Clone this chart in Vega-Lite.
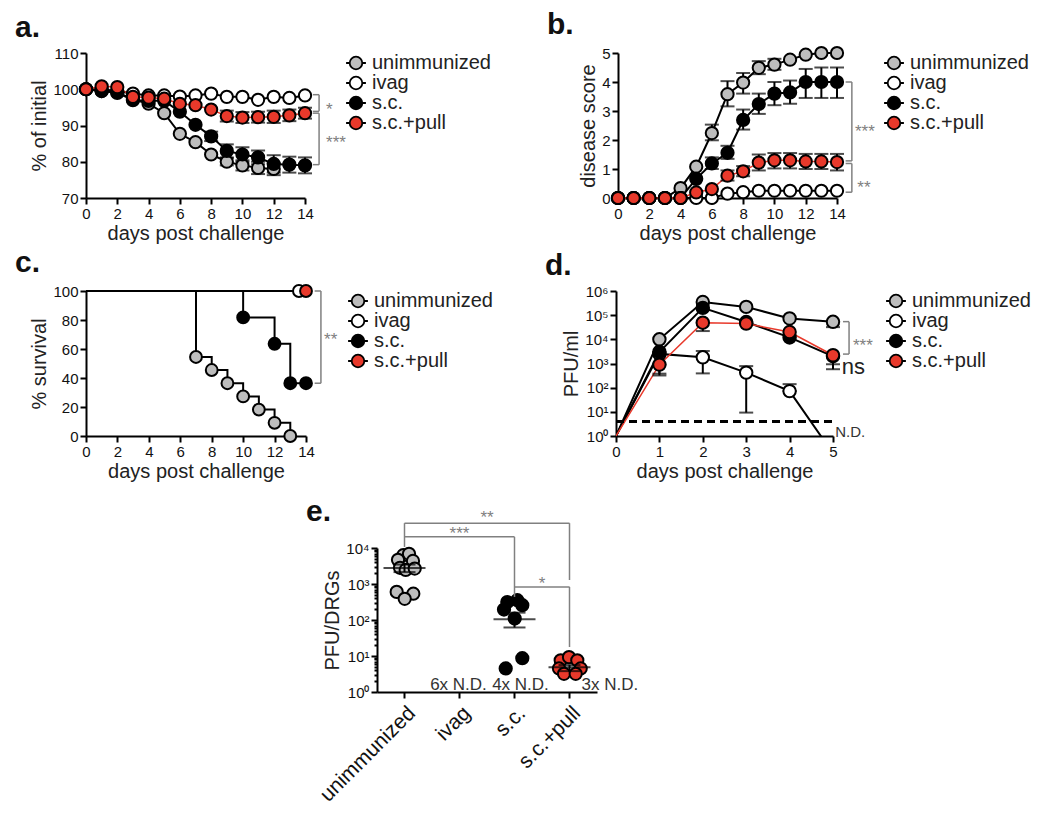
{
"$schema": "https://vega.github.io/schema/vega-lite/v6.json",
"background": "white",
"padding": {"left": 15, "top": 9, "right": 5, "bottom": 5},
"config": {
 "font": "Liberation Sans",
 "view": {"stroke": null},
 "axis": {"domainColor": "#000", "domainWidth": 2, "tickColor": "#000", "tickWidth": 2, "tickSize": 6, "labelFontSize": 15, "labelColor": "#111", "titleFontSize": 20, "titleFontWeight": "normal", "titleColor": "#222", "grid": false, "labelPadding": 2, "titlePadding": 3, "labelFlush": false, "labelOverlap": false},
 "axisX": {"titlePadding": 2},
 "legend": {"symbolType": "M-1.1,0L-0.7,0M0.7,0L1.1,0M0.7,0A0.7,0.7,0,1,1,-0.7,0A0.7,0.7,0,1,1,0.7,0Z", "symbolSize": 324, "symbolStrokeColor": "black", "symbolStrokeWidth": 1.8, "labelFontSize": 20, "labelColor": "#222", "rowPadding": 0, "labelOffset": 6, "padding": 0, "orient": "right"},
 "title": {"anchor": "start", "frame": "group", "dx": -71, "dy": 5, "fontSize": 30, "fontWeight": "bold", "color": "#111", "offset": 8}
},
"spacing": 16,
"resolve": {"scale": {"fill": "independent"}},
"vconcat": [
{
 "spacing": 5,
 "resolve": {"scale": {"fill": "independent"}},
 "vconcat": [
 {
  "hconcat": [
  {
   "title": "a.",
   "width": 219, "height": 145,
   "data": {"values": [
    {"d":0,"g":"unimmunized","v":100},{"d":1,"g":"unimmunized","v":99.5},{"d":2,"g":"unimmunized","v":99.2},{"d":3,"g":"unimmunized","v":97.2},{"d":4,"g":"unimmunized","v":96},{"d":5,"g":"unimmunized","v":93.4},{"d":6,"g":"unimmunized","v":87.7},{"d":7,"g":"unimmunized","v":85.4},{"d":8,"g":"unimmunized","v":82},{"d":9,"g":"unimmunized","v":80,"lo":79,"hi":81},{"d":10,"g":"unimmunized","v":79,"lo":77.6,"hi":80.4},{"d":11,"g":"unimmunized","v":78.3,"lo":76.6,"hi":80},{"d":12,"g":"unimmunized","v":78,"lo":76.3,"hi":79.7},
    {"d":0,"g":"ivag","v":100},{"d":1,"g":"ivag","v":100},{"d":2,"g":"ivag","v":99.5},{"d":3,"g":"ivag","v":98.8},{"d":4,"g":"ivag","v":98.3},{"d":5,"g":"ivag","v":98.3},{"d":6,"g":"ivag","v":98},{"d":7,"g":"ivag","v":98.3},{"d":8,"g":"ivag","v":98.8},{"d":9,"g":"ivag","v":97.9},{"d":10,"g":"ivag","v":97.9},{"d":11,"g":"ivag","v":97.1},{"d":12,"g":"ivag","v":97.9},{"d":13,"g":"ivag","v":97.6},{"d":14,"g":"ivag","v":98.3},
    {"d":0,"g":"s.c.","v":100},{"d":1,"g":"s.c.","v":99.5},{"d":2,"g":"s.c.","v":99},{"d":3,"g":"s.c.","v":97},{"d":4,"g":"s.c.","v":96.8},{"d":5,"g":"s.c.","v":96.8},{"d":6,"g":"s.c.","v":93.8},{"d":7,"g":"s.c.","v":90.2},{"d":8,"g":"s.c.","v":87,"lo":85.7,"hi":88.3},{"d":9,"g":"s.c.","v":83,"lo":81.2,"hi":84.8},{"d":10,"g":"s.c.","v":82,"lo":80,"hi":84},{"d":11,"g":"s.c.","v":81.2,"lo":79.3,"hi":83.1},{"d":12,"g":"s.c.","v":79.4,"lo":77,"hi":81.8},{"d":13,"g":"s.c.","v":79.2,"lo":77,"hi":81.4},{"d":14,"g":"s.c.","v":79,"lo":76.8,"hi":81.2},
    {"d":0,"g":"s.c.+pull","v":100},{"d":1,"g":"s.c.+pull","v":100.8},{"d":2,"g":"s.c.+pull","v":100.6},{"d":3,"g":"s.c.+pull","v":97.9},{"d":4,"g":"s.c.+pull","v":97.7},{"d":5,"g":"s.c.+pull","v":97.4},{"d":6,"g":"s.c.+pull","v":96},{"d":7,"g":"s.c.+pull","v":95.6},{"d":8,"g":"s.c.+pull","v":94.4},{"d":9,"g":"s.c.+pull","v":92.6,"lo":91.1,"hi":94.1},{"d":10,"g":"s.c.+pull","v":92.2,"lo":90.7,"hi":93.7},{"d":11,"g":"s.c.+pull","v":92.3,"lo":90.8,"hi":93.8},{"d":12,"g":"s.c.+pull","v":92.4,"lo":90.7,"hi":94.1},{"d":13,"g":"s.c.+pull","v":92.8,"lo":91.2,"hi":94.4},{"d":14,"g":"s.c.+pull","v":93.4,"lo":91.9,"hi":94.9}
   ]},
   "layer": [
    {"transform": [{"filter": "datum.g != 's.c.+pull'"}], "mark": {"type": "line", "strokeWidth": 2, "color": "black"},
     "encoding": {
      "x": {"field": "d", "type": "quantitative", "title": "days post challenge", "scale": {"domain": [0, 14], "nice": false}, "axis": {"values": [0,2,4,6,8,10,12,14], "tickCount": 30, "format": "d", "labelOverlap": false}},
      "y": {"field": "v", "type": "quantitative", "title": "% of initial", "scale": {"domain": [70, 110], "nice": false, "zero": false}, "axis": {"values": [70,80,90,100,110], "tickCount": 30, "format": "d", "labelOverlap": false}},
      "detail": {"field": "g"}}},
    {"transform": [{"filter": "datum.g == 's.c.+pull'"}], "mark": {"type": "line", "strokeWidth": 1.5, "color": "#e8392b"},
     "encoding": {"x": {"field": "d", "type": "quantitative", "title": "days post challenge"}, "y": {"field": "v", "type": "quantitative", "title": "% of initial"}}},
    {"transform": [{"filter": "isValid(datum.lo)"}], "mark": {"type": "rule", "strokeWidth": 2, "color": "black"},
     "encoding": {"x": {"field": "d", "type": "quantitative", "title": "days post challenge"}, "y": {"field": "lo", "type": "quantitative", "title": "% of initial"}, "y2": {"field": "hi"}}},
    {"transform": [{"filter": "isValid(datum.lo)"}], "mark": {"type": "tick", "orient": "horizontal", "size": 14, "thickness": 2, "color": "black"},
     "encoding": {"x": {"field": "d", "type": "quantitative", "title": "days post challenge"}, "y": {"field": "lo", "type": "quantitative", "title": "% of initial"}}},
    {"transform": [{"filter": "isValid(datum.hi)"}], "mark": {"type": "tick", "orient": "horizontal", "size": 14, "thickness": 2, "color": "black"},
     "encoding": {"x": {"field": "d", "type": "quantitative", "title": "days post challenge"}, "y": {"field": "hi", "type": "quantitative", "title": "% of initial"}}},
    {"mark": {"type": "point", "filled": true, "size": 150, "stroke": "black", "strokeWidth": 2, "opacity": 1},
     "encoding": {"x": {"field": "d", "type": "quantitative", "title": "days post challenge"}, "y": {"field": "v", "type": "quantitative", "title": "% of initial"},
      "fill": {"field": "g", "type": "nominal", "scale": {"domain": ["unimmunized","ivag","s.c.","s.c.+pull"], "range": ["#bdbdbd","#ffffff","#000000","#e8392b"]}, "legend": {"title": null, "offset": 37}}}},
    {"data": {"values": [
      {"x1":14.9,"x2":14.9,"y1":98.5,"y2":93.9},{"x1":14.5,"x2":14.9,"y1":98.5,"y2":98.5},{"x1":14.5,"x2":14.9,"y1":93.9,"y2":93.9},
      {"x1":14.9,"x2":14.9,"y1":93.4,"y2":79.2},{"x1":14.5,"x2":14.9,"y1":93.4,"y2":93.4},{"x1":14.5,"x2":14.9,"y1":79.2,"y2":79.2}]},
     "mark": {"type": "rule", "color": "#808080", "strokeWidth": 1.5},
     "encoding": {"x": {"field": "x1", "type": "quantitative", "title": "days post challenge"}, "x2": {"field": "x2"}, "y": {"field": "y1", "type": "quantitative", "title": "% of initial"}, "y2": {"field": "y2"}}},
    {"data": {"values": [{"x":15.35,"y":92.9,"t":"*"},{"x":15.35,"y":83.8,"t":"***"}]},
     "mark": {"type": "text", "align": "left", "baseline": "alphabetic", "fontSize": 17, "color": "#808080"},
     "encoding": {"x": {"field": "x", "type": "quantitative", "title": "days post challenge"}, "y": {"field": "y", "type": "quantitative", "title": "% of initial"}, "text": {"field": "t"}}}
   ]
  },
  {
   "title": "b.",
   "width": 219, "height": 145,
   "data": {"values": [
    {"d":0,"g":"unimmunized","v":0},{"d":1,"g":"unimmunized","v":0},{"d":2,"g":"unimmunized","v":0},{"d":3,"g":"unimmunized","v":0},{"d":4,"g":"unimmunized","v":0.34},{"d":5,"g":"unimmunized","v":1.08},{"d":6,"g":"unimmunized","v":2.24,"lo":1.99,"hi":2.53},{"d":7,"g":"unimmunized","v":3.58,"lo":3.16,"hi":4.03},{"d":8,"g":"unimmunized","v":3.98,"lo":3.6,"hi":4.31},{"d":9,"g":"unimmunized","v":4.49,"lo":4.27,"hi":4.72},{"d":10,"g":"unimmunized","v":4.6,"lo":4.42,"hi":4.8},{"d":11,"g":"unimmunized","v":4.77},{"d":12,"g":"unimmunized","v":4.94},{"d":13,"g":"unimmunized","v":5},{"d":14,"g":"unimmunized","v":5},
    {"d":0,"g":"ivag","v":0},{"d":1,"g":"ivag","v":0},{"d":2,"g":"ivag","v":0},{"d":3,"g":"ivag","v":0},{"d":4,"g":"ivag","v":0},{"d":5,"g":"ivag","v":0},{"d":6,"g":"ivag","v":0},{"d":7,"g":"ivag","v":0.15},{"d":8,"g":"ivag","v":0.2},{"d":9,"g":"ivag","v":0.25},{"d":10,"g":"ivag","v":0.25},{"d":11,"g":"ivag","v":0.25},{"d":12,"g":"ivag","v":0.25},{"d":13,"g":"ivag","v":0.25},{"d":14,"g":"ivag","v":0.25},
    {"d":0,"g":"s.c.","v":0},{"d":1,"g":"s.c.","v":0},{"d":2,"g":"s.c.","v":0},{"d":3,"g":"s.c.","v":0},{"d":4,"g":"s.c.","v":0},{"d":5,"g":"s.c.","v":0.66},{"d":6,"g":"s.c.","v":1.19,"lo":1.0,"hi":1.4},{"d":7,"g":"s.c.","v":1.56,"lo":1.35,"hi":1.8},{"d":8,"g":"s.c.","v":2.69,"lo":2.36,"hi":3.05},{"d":9,"g":"s.c.","v":3.24,"lo":2.9,"hi":3.6},{"d":10,"g":"s.c.","v":3.6,"lo":3.2,"hi":4.0},{"d":11,"g":"s.c.","v":3.64,"lo":3.25,"hi":4.05},{"d":12,"g":"s.c.","v":4,"lo":3.45,"hi":4.45},{"d":13,"g":"s.c.","v":4,"lo":3.45,"hi":4.5},{"d":14,"g":"s.c.","v":4,"lo":3.45,"hi":4.5},
    {"d":0,"g":"s.c.+pull","v":0},{"d":1,"g":"s.c.+pull","v":0},{"d":2,"g":"s.c.+pull","v":0},{"d":3,"g":"s.c.+pull","v":0},{"d":4,"g":"s.c.+pull","v":0},{"d":5,"g":"s.c.+pull","v":0.19},{"d":6,"g":"s.c.+pull","v":0.31},{"d":7,"g":"s.c.+pull","v":0.77,"lo":0.6,"hi":0.95},{"d":8,"g":"s.c.+pull","v":0.92,"lo":0.75,"hi":1.1},{"d":9,"g":"s.c.+pull","v":1.22,"lo":0.95,"hi":1.5},{"d":10,"g":"s.c.+pull","v":1.3,"lo":1.02,"hi":1.55},{"d":11,"g":"s.c.+pull","v":1.3,"lo":1.02,"hi":1.55},{"d":12,"g":"s.c.+pull","v":1.26,"lo":1.0,"hi":1.52},{"d":13,"g":"s.c.+pull","v":1.26,"lo":1.0,"hi":1.52},{"d":14,"g":"s.c.+pull","v":1.24,"lo":0.95,"hi":1.52}
   ]},
   "layer": [
    {"transform": [{"filter": "datum.g != 's.c.+pull'"}], "mark": {"type": "line", "strokeWidth": 2, "color": "black"},
     "encoding": {
      "x": {"field": "d", "type": "quantitative", "title": "days post challenge", "scale": {"domain": [0, 14], "nice": false}, "axis": {"values": [0,2,4,6,8,10,12,14], "tickCount": 30, "format": "d", "labelOverlap": false}},
      "y": {"field": "v", "type": "quantitative", "title": "disease score", "scale": {"domain": [0, 5], "nice": false}, "axis": {"values": [0,1,2,3,4,5], "tickCount": 30, "format": "d", "labelOverlap": false}},
      "detail": {"field": "g"}}},
    {"transform": [{"filter": "datum.g == 's.c.+pull'"}], "mark": {"type": "line", "strokeWidth": 1.5, "color": "#e8392b"},
     "encoding": {"x": {"field": "d", "type": "quantitative", "title": "days post challenge"}, "y": {"field": "v", "type": "quantitative", "title": "disease score"}}},
    {"transform": [{"filter": "isValid(datum.lo)"}], "mark": {"type": "rule", "strokeWidth": 2, "color": "black"},
     "encoding": {"x": {"field": "d", "type": "quantitative", "title": "days post challenge"}, "y": {"field": "lo", "type": "quantitative", "title": "disease score"}, "y2": {"field": "hi"}}},
    {"transform": [{"filter": "isValid(datum.lo)"}], "mark": {"type": "tick", "orient": "horizontal", "size": 14, "thickness": 2, "color": "black"},
     "encoding": {"x": {"field": "d", "type": "quantitative", "title": "days post challenge"}, "y": {"field": "lo", "type": "quantitative", "title": "disease score"}}},
    {"transform": [{"filter": "isValid(datum.hi)"}], "mark": {"type": "tick", "orient": "horizontal", "size": 14, "thickness": 2, "color": "black"},
     "encoding": {"x": {"field": "d", "type": "quantitative", "title": "days post challenge"}, "y": {"field": "hi", "type": "quantitative", "title": "disease score"}}},
    {"mark": {"type": "point", "filled": true, "size": 150, "stroke": "black", "strokeWidth": 2, "opacity": 1},
     "encoding": {"x": {"field": "d", "type": "quantitative", "title": "days post challenge"}, "y": {"field": "v", "type": "quantitative", "title": "disease score"},
      "fill": {"field": "g", "type": "nominal", "scale": {"domain": ["unimmunized","ivag","s.c.","s.c.+pull"], "range": ["#bdbdbd","#ffffff","#000000","#e8392b"]}, "legend": {"title": null, "offset": 43}}}},
    {"data": {"values": [
      {"x1":14.95,"x2":14.95,"y1":4.0,"y2":1.28},{"x1":14.55,"x2":14.95,"y1":4.0,"y2":4.0},{"x1":14.55,"x2":14.95,"y1":1.28,"y2":1.28},
      {"x1":14.95,"x2":14.95,"y1":1.19,"y2":0.2},{"x1":14.55,"x2":14.95,"y1":1.19,"y2":1.19},{"x1":14.55,"x2":14.95,"y1":0.2,"y2":0.2}]},
     "mark": {"type": "rule", "color": "#808080", "strokeWidth": 1.5},
     "encoding": {"x": {"field": "x1", "type": "quantitative", "title": "days post challenge"}, "x2": {"field": "x2"}, "y": {"field": "y1", "type": "quantitative", "title": "disease score"}, "y2": {"field": "y2"}}},
    {"data": {"values": [{"x":15.15,"y":2.12,"t":"***"},{"x":15.3,"y":0.17,"t":"**"}]},
     "mark": {"type": "text", "align": "left", "baseline": "alphabetic", "fontSize": 17, "color": "#808080"},
     "encoding": {"x": {"field": "x", "type": "quantitative", "title": "days post challenge"}, "y": {"field": "y", "type": "quantitative", "title": "disease score"}, "text": {"field": "t"}}}
   ]
  }
  ],
  "spacing": 313, "bounds": "flush",
  "resolve": {"scale": {"fill": "independent"}}
 },
 {
  "hconcat": [
  {
   "title": "c.",
   "width": 220, "height": 145,
   "data": {"values": [
    {"d":0,"g":"unimmunized","s":100},{"d":7,"g":"unimmunized","s":54.5},{"d":8,"g":"unimmunized","s":45.5},{"d":9,"g":"unimmunized","s":36.4},{"d":10,"g":"unimmunized","s":27.3},{"d":11,"g":"unimmunized","s":18.2},{"d":12,"g":"unimmunized","s":9.1},{"d":13,"g":"unimmunized","s":0},
    {"d":0,"g":"ivag","s":100},{"d":14,"g":"ivag","s":100},
    {"d":0,"g":"s.c.","s":100},{"d":10,"g":"s.c.","s":81.8},{"d":12,"g":"s.c.","s":63.6},{"d":13,"g":"s.c.","s":36.4},{"d":14,"g":"s.c.","s":36.4}
   ]},
   "layer": [
    {"mark": {"type": "line", "strokeWidth": 2, "color": "black", "interpolate": "step-after"},
     "encoding": {
      "x": {"field": "d", "type": "quantitative", "title": "days post challenge", "scale": {"domain": [0, 14], "nice": false}, "axis": {"values": [0,2,4,6,8,10,12,14], "tickCount": 30, "format": "d", "labelOverlap": false}},
      "y": {"field": "s", "type": "quantitative", "title": "% survival", "scale": {"domain": [0, 100], "nice": false}, "axis": {"values": [0,20,40,60,80,100], "tickCount": 30, "format": "d", "labelOverlap": false}},
      "detail": {"field": "g"}}},
    {"data": {"values": [
      {"d":7,"g":"unimmunized","s":54.5},{"d":8,"g":"unimmunized","s":45.5},{"d":9,"g":"unimmunized","s":36.4},{"d":10,"g":"unimmunized","s":27.3},{"d":11,"g":"unimmunized","s":18.2},{"d":12,"g":"unimmunized","s":9.1},{"d":13,"g":"unimmunized","s":0},
      {"d":13.55,"g":"ivag","s":100},
      {"d":10,"g":"s.c.","s":81.8},{"d":12,"g":"s.c.","s":63.6},{"d":13,"g":"s.c.","s":36.4},{"d":14,"g":"s.c.","s":36.4},
      {"d":14,"g":"s.c.+pull","s":100}]},
     "mark": {"type": "point", "filled": true, "size": 140, "stroke": "black", "strokeWidth": 2, "opacity": 1},
     "encoding": {"x": {"field": "d", "type": "quantitative", "title": "days post challenge"}, "y": {"field": "s", "type": "quantitative", "title": "% survival"},
      "fill": {"field": "g", "type": "nominal", "scale": {"domain": ["unimmunized","ivag","s.c.","s.c.+pull"], "range": ["#bdbdbd","#ffffff","#000000","#e8392b"]}, "legend": {"title": null, "offset": 38}}}},
    {"data": {"values": [
      {"x1":14.95,"x2":14.95,"y1":100,"y2":36.4},{"x1":14.55,"x2":14.95,"y1":100,"y2":100},{"x1":14.55,"x2":14.95,"y1":36.4,"y2":36.4}]},
     "mark": {"type": "rule", "color": "#808080", "strokeWidth": 1.5},
     "encoding": {"x": {"field": "x1", "type": "quantitative", "title": "days post challenge"}, "x2": {"field": "x2"}, "y": {"field": "y1", "type": "quantitative", "title": "% survival"}, "y2": {"field": "y2"}}},
    {"data": {"values": [{"x":15.15,"y":62.8,"t":"**"}]},
     "mark": {"type": "text", "align": "left", "baseline": "alphabetic", "fontSize": 17, "color": "#808080"},
     "encoding": {"x": {"field": "x", "type": "quantitative", "title": "days post challenge"}, "y": {"field": "y", "type": "quantitative", "title": "% survival"}, "text": {"field": "t"}}}
   ]
  },
  {
   "title": "d.",
   "width": 217, "height": 145,
   "data": {"values": [
    {"d":0,"g":"unimmunized","v":1},{"d":1,"g":"unimmunized","v":10000},{"d":2,"g":"unimmunized","v":350000},{"d":3,"g":"unimmunized","v":220000},{"d":4,"g":"unimmunized","v":73000},{"d":5,"g":"unimmunized","v":53000,"lo":32000,"hi":53000},
    {"d":0,"g":"ivag","v":1},{"d":1,"g":"ivag","v":2500},{"d":2,"g":"ivag","v":1800,"lo":390,"hi":3300},{"d":3,"g":"ivag","v":420,"lo":9.3,"hi":780},{"d":4,"g":"ivag","v":72,"lo":72,"hi":140},{"d":5,"g":"ivag","v":0.19},
    {"d":0,"g":"s.c.","v":1},{"d":1,"g":"s.c.","v":3000,"lo":320,"hi":3000},{"d":2,"g":"s.c.","v":200000},{"d":3,"g":"s.c.","v":52000},{"d":4,"g":"s.c.","v":12000},{"d":5,"g":"s.c.","v":2000,"lo":930,"hi":2000},
    {"d":0,"g":"s.c.+pull","v":1},{"d":1,"g":"s.c.+pull","v":900,"lo":380,"hi":900},{"d":2,"g":"s.c.+pull","v":49000,"lo":22000,"hi":49000},{"d":3,"g":"s.c.+pull","v":45000},{"d":4,"g":"s.c.+pull","v":20000},{"d":5,"g":"s.c.+pull","v":2200,"lo":580,"hi":2200}
   ]},
   "layer": [
    {"transform": [{"filter": "datum.g != 's.c.+pull'"}], "mark": {"type": "line", "strokeWidth": 2, "color": "black", "clip": true},
     "encoding": {
      "x": {"field": "d", "type": "quantitative", "title": "days post challenge", "scale": {"domain": [0, 5], "nice": false}, "axis": {"values": [0,1,2,3,4,5], "tickCount": 30, "format": "d", "labelOverlap": false}},
      "y": {"field": "v", "type": "quantitative", "title": "PFU/ml", "scale": {"type": "log", "domain": [1, 1000000]}, "axis": {"values": [1,10,100,1000,10000,100000,1000000], "tickCount": 30, "labelOverlap": false, "labelExpr": "'10' + ['⁰','¹','²','³','⁴','⁵','⁶'][round(log(datum.value)/LN10)]"}},
      "detail": {"field": "g"}}},
    {"transform": [{"filter": "datum.g == 's.c.+pull'"}], "mark": {"type": "line", "strokeWidth": 1.5, "color": "#e8392b", "clip": true},
     "encoding": {"x": {"field": "d", "type": "quantitative", "title": "days post challenge"}, "y": {"field": "v", "type": "quantitative", "title": "PFU/ml"}}},
    {"data": {"values": [{"x1":0,"x2":5,"y":4}]},
     "mark": {"type": "rule", "strokeWidth": 3, "strokeDash": [8, 5], "color": "black"},
     "encoding": {"x": {"field": "x1", "type": "quantitative", "title": "days post challenge"}, "x2": {"field": "x2"}, "y": {"field": "y", "type": "quantitative", "title": "PFU/ml"}}},
    {"transform": [{"filter": "isValid(datum.lo)"}], "mark": {"type": "rule", "strokeWidth": 2, "color": "black"},
     "encoding": {"x": {"field": "d", "type": "quantitative", "title": "days post challenge"}, "y": {"field": "lo", "type": "quantitative", "title": "PFU/ml"}, "y2": {"field": "hi"}}},
    {"transform": [{"filter": "isValid(datum.lo)"}], "mark": {"type": "tick", "orient": "horizontal", "size": 14, "thickness": 2, "color": "black"},
     "encoding": {"x": {"field": "d", "type": "quantitative", "title": "days post challenge"}, "y": {"field": "lo", "type": "quantitative", "title": "PFU/ml"}}},
    {"transform": [{"filter": "isValid(datum.hi)"}], "mark": {"type": "tick", "orient": "horizontal", "size": 14, "thickness": 2, "color": "black"},
     "encoding": {"x": {"field": "d", "type": "quantitative", "title": "days post challenge"}, "y": {"field": "hi", "type": "quantitative", "title": "PFU/ml"}}},
    {"transform": [{"filter": "datum.d > 0 && datum.v >= 1"}],
     "mark": {"type": "point", "filled": true, "size": 155, "stroke": "black", "strokeWidth": 2, "opacity": 1},
     "encoding": {"x": {"field": "d", "type": "quantitative", "title": "days post challenge"}, "y": {"field": "v", "type": "quantitative", "title": "PFU/ml"},
      "fill": {"field": "g", "type": "nominal", "scale": {"domain": ["unimmunized","ivag","s.c.","s.c.+pull"], "range": ["#bdbdbd","#ffffff","#000000","#e8392b"]}, "legend": {"title": null, "offset": 53}}}},
    {"data": {"values": [
      {"x1":5.37,"x2":5.37,"y1":54000,"y2":2450},{"x1":5.23,"x2":5.37,"y1":54000,"y2":54000},{"x1":5.23,"x2":5.37,"y1":2450,"y2":2450}]},
     "mark": {"type": "rule", "color": "#808080", "strokeWidth": 1.5},
     "encoding": {"x": {"field": "x1", "type": "quantitative", "title": "days post challenge"}, "x2": {"field": "x2"}, "y": {"field": "y1", "type": "quantitative", "title": "PFU/ml"}, "y2": {"field": "y2"}}},
    {"data": {"values": [{"x":5.46,"y":3300,"t":"***"}]},
     "mark": {"type": "text", "align": "left", "baseline": "alphabetic", "fontSize": 17, "color": "#808080"},
     "encoding": {"x": {"field": "x", "type": "quantitative", "title": "days post challenge"}, "y": {"field": "y", "type": "quantitative", "title": "PFU/ml"}, "text": {"field": "t"}}},
    {"data": {"values": [{"x":5.2,"y":370,"t":"ns"}]},
     "mark": {"type": "text", "align": "left", "baseline": "alphabetic", "fontSize": 22, "color": "#222"},
     "encoding": {"x": {"field": "x", "type": "quantitative", "title": "days post challenge"}, "y": {"field": "y", "type": "quantitative", "title": "PFU/ml"}, "text": {"field": "t"}}},
    {"data": {"values": [{"x":5.05,"y":0.91,"t":"N.D."}]},
     "mark": {"type": "text", "align": "left", "baseline": "alphabetic", "fontSize": 15, "color": "#333"},
     "encoding": {"x": {"field": "x", "type": "quantitative", "title": "days post challenge"}, "y": {"field": "y", "type": "quantitative", "title": "PFU/ml"}, "text": {"field": "t"}}}
   ]
  }
  ],
  "spacing": 310, "bounds": "flush",
  "resolve": {"scale": {"fill": "independent"}}
 }
 ]
},
{
 "hconcat": [
  {"width": 8, "height": 8, "view": {"fill": "transparent"}, "data": {"values": []}, "mark": "point", "encoding": {}},
  {
   "title": {"text": "e.", "dy": 26},
   "width": 220, "height": 144,
   "data": {"values": [
    {"g":"unimmunized","v":6310,"off":-1.2},{"g":"unimmunized","v":6920,"off":4.5},{"g":"unimmunized","v":4680,"off":-6.5},{"g":"unimmunized","v":4370,"off":8.5},{"g":"unimmunized","v":2820,"off":-4.5},{"g":"unimmunized","v":2450,"off":1.2},{"g":"unimmunized","v":2690,"off":10.2},{"g":"unimmunized","v":603,"off":-7.8},{"g":"unimmunized","v":537,"off":8.8},{"g":"unimmunized","v":389,"off":0.2},
    {"g":"s.c.","v":316,"off":-7.2},{"g":"s.c.","v":355,"off":2.8},{"g":"s.c.","v":257,"off":7.8},{"g":"s.c.","v":195,"off":-10.5},{"g":"s.c.","v":110,"off":0.2},{"g":"s.c.","v":4.5,"off":-8.8},{"g":"s.c.","v":8.7,"off":7.8},
    {"g":"s.c.+pull","v":7.6,"off":-8.8},{"g":"s.c.+pull","v":9.3,"off":-0.5},{"g":"s.c.+pull","v":7.6,"off":7.8},{"g":"s.c.+pull","v":4.5,"off":-10.5},{"g":"s.c.+pull","v":4.5,"off":11.2},{"g":"s.c.+pull","v":3.2,"off":-5.5},{"g":"s.c.+pull","v":3.2,"off":6.2}
   ]},
   "layer": [
    {"mark": {"type": "point", "filled": true, "size": 150, "stroke": "black", "strokeWidth": 2, "opacity": 1},
     "encoding": {
      "x": {"field": "g", "type": "nominal", "title": null, "scale": {"domain": ["unimmunized","ivag","s.c.","s.c.+pull"], "paddingInner": 0, "paddingOuter": 0}, "axis": {"labelAngle": -45, "labelFontSize": 21, "labelPadding": 4}},
      "xOffset": {"field": "off", "type": "quantitative", "scale": {"domain": [-27.5, 27.5]}},
      "y": {"field": "v", "type": "quantitative", "title": "PFU/DRGs", "scale": {"type": "log", "domain": [1, 10000]},
       "axis": {"values": [1,2,3,4,5,6,7,8,9,10,20,30,40,50,60,70,80,90,100,200,300,400,500,600,700,800,900,1000,2000,3000,4000,5000,6000,7000,8000,9000,10000],
        "tickCount": 100, "labelOverlap": false,
        "labelExpr": "abs(log(datum.value)/LN10 - round(log(datum.value)/LN10)) < 0.001 ? '10' + ['⁰','¹','²','³','⁴','⁵','⁶'][round(log(datum.value)/LN10)] : ''",
        "tickSize": {"condition": {"test": "abs(log(datum.value)/LN10 - round(log(datum.value)/LN10)) < 0.001", "value": 6}, "value": 3}}},
      "fill": {"field": "g", "type": "nominal", "scale": {"domain": ["unimmunized","ivag","s.c.","s.c.+pull"], "range": ["#bdbdbd","#ffffff","#000000","#e8392b"]}, "legend": null}}},
    {"data": {"values": [
      {"g":"unimmunized","m":2800,"lo":2140,"hi":3470},{"g":"s.c.","m":105,"lo":62,"hi":160},{"g":"s.c.+pull","m":4.9,"lo":3.8,"hi":5.6}]},
     "layer": [
      {"mark": {"type": "rule", "strokeWidth": 2, "color": "black"},
       "encoding": {"x": {"field": "g", "type": "nominal", "title": null}, "y": {"field": "lo", "type": "quantitative", "title": "PFU/DRGs"}, "y2": {"field": "hi"}}},
      {"mark": {"type": "tick", "orient": "horizontal", "size": 22, "thickness": 2, "color": "black"},
       "encoding": {"x": {"field": "g", "type": "nominal", "title": null}, "y": {"field": "lo", "type": "quantitative", "title": "PFU/DRGs"}}},
      {"mark": {"type": "tick", "orient": "horizontal", "size": 22, "thickness": 2, "color": "black"},
       "encoding": {"x": {"field": "g", "type": "nominal", "title": null}, "y": {"field": "hi", "type": "quantitative", "title": "PFU/DRGs"}}},
      {"mark": {"type": "tick", "orient": "horizontal", "size": 42, "thickness": 2, "color": "black"},
       "encoding": {"x": {"field": "g", "type": "nominal", "title": null}, "y": {"field": "m", "type": "quantitative", "title": "PFU/DRGs"}}}
     ]},
    {"data": {"values": [
      {"g1":"unimmunized","g2":"unimmunized","y1":10700,"y2":49000},
      {"g1":"unimmunized","g2":"s.c.+pull","y1":49000,"y2":49000},
      {"g1":"s.c.+pull","g2":"s.c.+pull","y1":49000,"y2":1290},
      {"g1":"unimmunized","g2":"s.c.","y1":20400,"y2":20400},
      {"g1":"s.c.","g2":"s.c.","y1":20400,"y2":437},
      {"g1":"s.c.","g2":"s.c.+pull","y1":832,"y2":832},
      {"g1":"s.c.+pull","g2":"s.c.+pull","y1":832,"y2":17.8}]},
     "mark": {"type": "rule", "color": "#808080", "strokeWidth": 1.5},
     "encoding": {"x": {"field": "g1", "type": "nominal", "title": null, "bandPosition": 0.5}, "x2": {"field": "g2", "bandPosition": 0.5}, "y": {"field": "y1", "type": "quantitative", "title": "PFU/DRGs"}, "y2": {"field": "y2"}}},
    {"data": {"values": [{"g":"ivag","v":49000,"t":"**"},{"g":"s.c.","v":720,"t":"*"}]},
     "mark": {"type": "text", "align": "center", "baseline": "alphabetic", "fontSize": 17, "color": "#808080"},
     "encoding": {"x": {"field": "g", "type": "nominal", "title": null, "bandPosition": 1}, "y": {"field": "v", "type": "quantitative", "title": "PFU/DRGs"}, "text": {"field": "t"}}},
    {"data": {"values": [{"g":"ivag","v":17800,"t":"***"}]},
     "mark": {"type": "text", "align": "center", "baseline": "alphabetic", "fontSize": 17, "color": "#808080"},
     "encoding": {"x": {"field": "g", "type": "nominal", "title": null}, "y": {"field": "v", "type": "quantitative", "title": "PFU/DRGs"}, "text": {"field": "t"}}},
    {"data": {"values": [{"g":"ivag","v":1.14,"t":"6x N.D."}]},
     "mark": {"type": "text", "align": "center", "dx": -1, "baseline": "alphabetic", "fontSize": 17, "color": "#333"},
     "encoding": {"x": {"field": "g", "type": "nominal", "title": null}, "y": {"field": "v", "type": "quantitative", "title": "PFU/DRGs"}, "text": {"field": "t"}}},
    {"data": {"values": [{"g":"s.c.","v":1.14,"t":"4x N.D."}]},
     "mark": {"type": "text", "align": "center", "dx": 6, "baseline": "alphabetic", "fontSize": 17, "color": "#333"},
     "encoding": {"x": {"field": "g", "type": "nominal", "title": null}, "y": {"field": "v", "type": "quantitative", "title": "PFU/DRGs"}, "text": {"field": "t"}}},
    {"data": {"values": [{"g":"s.c.+pull","v":1.14,"t":"3x N.D."}]},
     "mark": {"type": "text", "align": "left", "dx": 12, "baseline": "alphabetic", "fontSize": 17, "color": "#333"},
     "encoding": {"x": {"field": "g", "type": "nominal", "title": null}, "y": {"field": "v", "type": "quantitative", "title": "PFU/DRGs"}, "text": {"field": "t"}}}
   ]
  }
 ],
 "spacing": 283, "bounds": "flush"
}
]
}
